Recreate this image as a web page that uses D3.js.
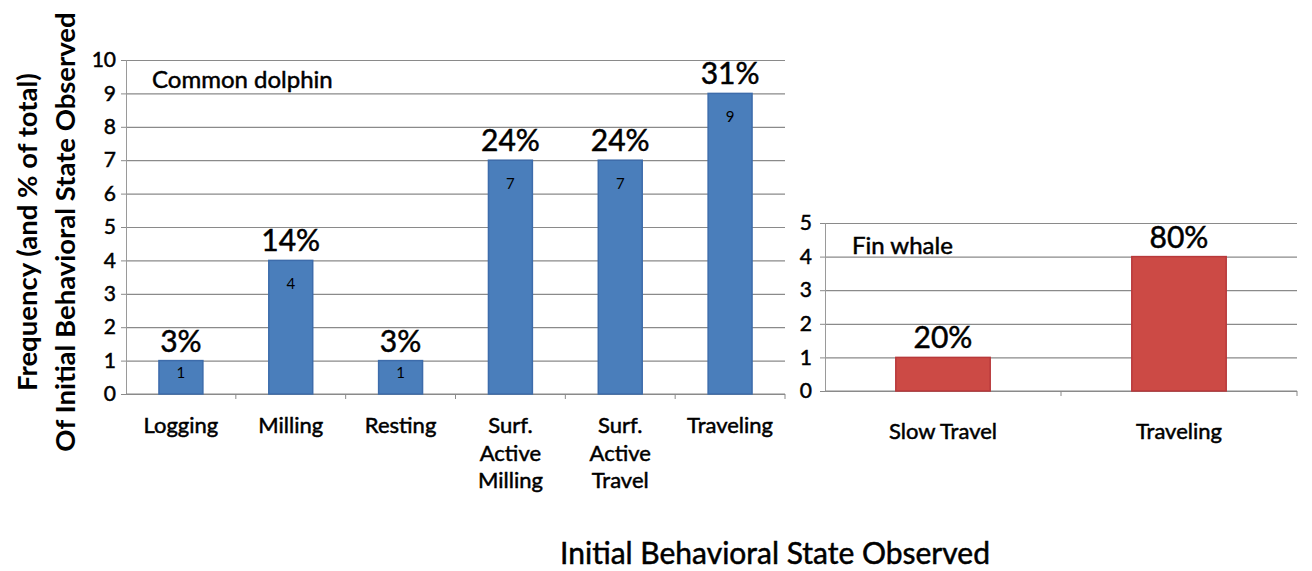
<!DOCTYPE html>
<html>
<head>
<meta charset="utf-8">
<script src="https://cdn.jsdelivr.net/npm/d3@7"></script>
<style>
  body { margin: 0; background: #fff; }
  text { font-family: Lato, "Noto Sans", sans-serif; fill: #000; }
  .heavy { stroke: #000; stroke-width: 0.5px; }
</style>
</head>
<body>
<div id="chart"></div>
<script>
// data
var dolphinStates = ["Logging", "Milling", "Resting", "Surf. Active Milling", "Surf. Active Travel", "Traveling"];
var dolphinCounts = [1, 4, 1, 7, 7, 9];
var dolphinPct = ["3%", "14%", "3%", "24%", "24%", "31%"];
var dolphinTicks = [0, 1, 2, 3, 4, 5, 6, 7, 8, 9, 10];

var whaleStates = ["Slow Travel", "Traveling"];
var whaleCounts = [1, 4];
var whalePct = ["20%", "80%"];
var whaleTicks = [0, 1, 2, 3, 4, 5];

var svgWidth = 1312;
var svgHeight = 571;

var svg = d3.select("#chart")
  .append("svg")
  .attr("width", svgWidth)
  .attr("height", svgHeight);

// wrap category labels word by word
function wrap(sel, maxW) {
  sel.each(function() {
    var t = d3.select(this);
    var words = t.text().split(" ");
    t.text(null);
    var line = [];
    var ts = t.append("tspan").attr("x", 0).attr("dy", "0em");
    words.forEach(function(w) {
      line.push(w);
      ts.text(line.join(" "));
      if (ts.node().getComputedTextLength() > maxW && line.length > 1) {
        line.pop();
        ts.text(line.join(" "));
        line = [w];
        ts = t.append("tspan").attr("x", 0).attr("dy", "1.25em").text(w);
      }
    });
  });
}

function drawPanel(opts) {
  var g = svg.append("g").attr("transform", `translate(${opts.left}, ${opts.top})`);
  var w = opts.width, h = opts.height;

  var x = d3.scaleBand().domain(opts.cats).range([0, w]).paddingInner(0.6).paddingOuter(0.3);
  var y = d3.scaleLinear().domain([0, opts.max]).range([h, 0]);

  // gridlines
  var grid = g.append("g")
    .call(d3.axisLeft(y).tickValues(opts.ticks).tickSize(-w).tickFormat(""));
  grid.select(".domain").remove();
  grid.selectAll("line").attr("stroke", "#8a8a8a").attr("stroke-width", 1.2);

  // y axis with labels
  var yAxis = g.append("g")
    .call(d3.axisLeft(y).tickValues(opts.ticks).tickSize(5).tickPadding(opts.pad).tickFormat(d3.format("d")));
  yAxis.select(".domain").attr("stroke", "#9a9a9a");
  yAxis.selectAll("line").attr("stroke", "#8a8a8a");
  yAxis.selectAll("text").attr("class", "heavy").style("font-size", "21px").attr("fill", "#000");

  // x axis line and ticks between categories
  g.append("line")
    .attr("x1", 0).attr("x2", w).attr("y1", h).attr("y2", h)
    .attr("stroke", "#8a8a8a").attr("stroke-width", 1.2);
  var bounds = d3.range(1, opts.cats.length + 1).map(function(i) { return i * w / opts.cats.length; });
  g.selectAll(".xtick").data(bounds).enter().append("line")
    .attr("x1", function(d) { return d; }).attr("x2", function(d) { return d; })
    .attr("y1", h).attr("y2", h + 5)
    .attr("stroke", "#8a8a8a");

  g.selectAll(".xlabel").data(opts.cats).enter().append("text")
    .attr("class", "xlabel heavy")
    .attr("transform", function(d) { return `translate(${x(d) + x.bandwidth() / 2}, ${h + opts.labelGap})`; })
    .attr("text-anchor", "middle")
    .style("font-size", "22px")
    .text(function(d) { return d; })
    .call(wrap, opts.wrapW);

  // bars
  g.selectAll(".bar").data(opts.counts).enter().append("rect")
    .attr("x", function(d, i) { return x(opts.cats[i]); })
    .attr("y", function(d) { return y(d); })
    .attr("width", x.bandwidth())
    .attr("height", function(d) { return h - y(d); })
    .attr("fill", opts.fill)
    .attr("stroke", opts.stroke)
    .attr("stroke-width", 1.5);

  // percent labels
  g.selectAll(".pct").data(opts.counts).enter().append("text")
    .attr("class", "heavy")
    .attr("x", function(d, i) { return x(opts.cats[i]) + x.bandwidth() / 2; })
    .attr("y", function(d) { return y(d) - 9; })
    .attr("text-anchor", "middle")
    .style("font-size", "30px")
    .text(function(d, i) { return opts.pct[i]; });

  // small count labels inside bars
  if (opts.inner) {
    g.selectAll(".cnt").data(opts.counts).enter().append("text")
      .attr("x", function(d, i) { return x(opts.cats[i]) + x.bandwidth() / 2; })
      .attr("y", function(d) { return y(d) + Math.min(29, (h - y(d)) / 2 + 1); })
      .attr("text-anchor", "middle")
      .attr("fill", "#2b4f86")
      .style("font-size", "15px")
      .text(function(d) { return d; });
  }

  g.append("text")
    .attr("class", "heavy")
    .attr("x", opts.nameX).attr("y", opts.nameY)
    .style("font-size", "24px")
    .text(opts.name);
}

drawPanel({
  left: 126, top: 60, width: 659, height: 334,
  cats: dolphinStates, counts: dolphinCounts, pct: dolphinPct,
  ticks: dolphinTicks, max: 10, pad: 5, labelGap: 39, wrapW: 80,
  fill: "#4a7ebb", stroke: "#3d6cab", inner: true,
  name: "Common dolphin", nameX: 26, nameY: 28
});

drawPanel({
  left: 825, top: 223, width: 472, height: 168,
  cats: whaleStates, counts: whaleCounts, pct: whalePct,
  ticks: whaleTicks, max: 5, pad: 8, labelGap: 48, wrapW: 200,
  fill: "#cc4a45", stroke: "#b8393b", inner: false,
  name: "Fin whale", nameX: 27, nameY: 31
});

// y axis title (two lines)
var yTitle = svg.append("text")
  .attr("transform", "translate(0, 232) rotate(-90)")
  .attr("text-anchor", "middle")
  .style("font-size", "27.5px")
  .style("font-weight", "bold");
yTitle.append("tspan").attr("x", 0).attr("y", 37).text("Frequency (and % of total)");
yTitle.append("tspan").attr("x", 0).attr("y", 75).text("Of Initial Behavioral State Observed");

// x axis title
svg.append("text")
  .attr("class", "heavy")
  .attr("x", 775).attr("y", 564)
  .attr("text-anchor", "middle")
  .style("font-size", "30px")
  .text("Initial Behavioral State Observed");
</script>
</body>
</html>
